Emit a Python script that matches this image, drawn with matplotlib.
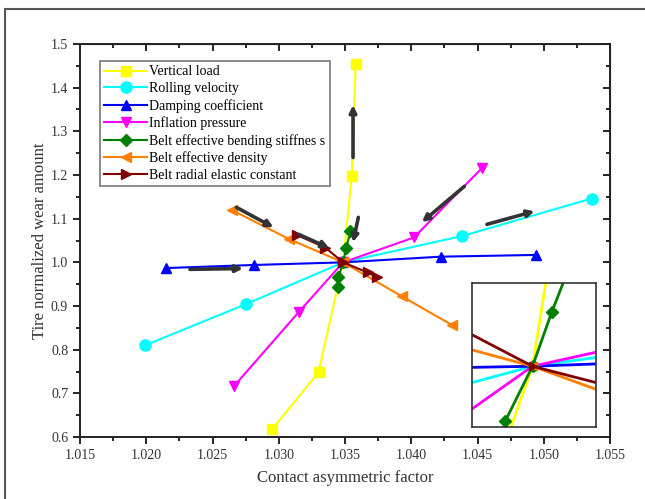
import numpy as np
import matplotlib.pyplot as plt
from matplotlib.patches import Rectangle
from matplotlib.ticker import MultipleLocator

plt.rcParams['font.family'] = ['Liberation Serif', 'DejaVu Serif']

# Contact asymmetric factor (x) and normalized wear (y) for each parameter sweep
labels = ['Vertical load', 'Rolling velocity', 'Damping coefficient',
          'Inflation pressure', 'Belt effective bending stiffnes s',
          'Belt effective density', 'Belt radial elastic constant']

vl_x = [1.0295, 1.0330, 1.03485, 1.0355, 1.0358]
vl_y = [0.618, 0.748, 1.0, 1.197, 1.455]

rv_x = [1.0199, 1.0275, 1.03485, 1.0438, 1.0536]
rv_y = [0.810, 0.904, 1.0, 1.060, 1.146]

dc_x = [1.0215, 1.0281, 1.03485, 1.0422, 1.0494]
dc_y = [0.987, 0.994, 1.0, 1.013, 1.017]

ip_x = [1.0266, 1.0315, 1.03485, 1.0402, 1.0453]
ip_y = [0.716, 0.886, 1.0, 1.057, 1.215]

bs_x = [1.0345, 1.0345, 1.03485, 1.0351, 1.0354]
bs_y = [0.943, 0.966, 1.0, 1.034, 1.071]

bd_x = [1.0265, 1.0308, 1.03485, 1.0393, 1.0431]
bd_y = [1.119, 1.053, 1.0, 0.922, 0.856]

br_x = [1.0314, 1.0335, 1.03485, 1.0367, 1.0374]
br_y = [1.062, 1.034, 1.0, 0.977, 0.966]

xs = [vl_x, rv_x, dc_x, ip_x, bs_x, bd_x, br_x]
ys = [vl_y, rv_y, dc_y, ip_y, bs_y, bd_y, br_y]
colors = ['#ffff00', '#00ffff', '#0000ff', '#ff00ff', '#008000', '#ff7f00', '#800000']
markers = ['s', 'o', '^', 'v', 'D', '<', '>']
msizes = [7, 8, 7, 7, 6, 7, 7]

# trend arrows (tail -> head)
arrows = [
    ((1.0356, 1.24), (1.0356, 1.36)),
    ((1.0360, 1.103), (1.0356, 1.046)),
    ((1.0440, 1.174), (1.0408, 1.092)),
    ((1.0457, 1.087), (1.0493, 1.117)),
    ((1.0233, 0.984), (1.0273, 0.986)),
    ((1.0268, 1.126), (1.0296, 1.080)),
    ((1.0315, 1.064), (1.0338, 1.033)),
]

fig = plt.figure(figsize=(6.45, 4.99), dpi=100)
fig.patches.append(Rectangle((5 / 645, -0.05), 1.0, 1 - 9 / 499 + 0.05,
                             transform=fig.transFigure, fill=False,
                             edgecolor='#555555', lw=1.5))

ax = fig.add_axes([0.124, 0.124, 0.822, 0.788])
for x, y, c, m, ms, lab in zip(xs, ys, colors, markers, msizes, labels):
    ax.plot(x, y, color=c, marker=m, markersize=ms, lw=1.5, label=lab)

for (x0, y0), (x1, y1) in arrows:
    ax.annotate('', xy=(x1, y1), xytext=(x0, y0),
                arrowprops=dict(arrowstyle='-|>', color='#333333', lw=2.6,
                                mutation_scale=10, shrinkA=0, shrinkB=0))

ax.set_xlim(1.015, 1.055)
ax.set_ylim(0.6, 1.5)
ax.xaxis.set_major_locator(MultipleLocator(0.005))
ax.xaxis.set_minor_locator(MultipleLocator(0.0025))
ax.yaxis.set_major_locator(MultipleLocator(0.1))
ax.yaxis.set_minor_locator(MultipleLocator(0.05))
ax.set_xticklabels([f'{v:.3f}' for v in ax.get_xticks()])
ax.set_yticklabels([f'{v:.1f}' for v in ax.get_yticks()])
ax.tick_params(which='both', direction='out', top=False, right=False,
               labelsize=10, labelcolor='#333333', width=1.2)
ax.tick_params(which='major', length=5)
ax.tick_params(which='minor', length=3)
for s in ax.spines.values():
    s.set_linewidth(1.4)
    s.set_color('#222222')

# mirrored inward ticks on top and right
axt = ax.secondary_xaxis('top')
axt.xaxis.set_major_locator(MultipleLocator(0.005))
axt.xaxis.set_minor_locator(MultipleLocator(0.0025))
axt.tick_params(which='both', direction='in', labeltop=False, width=1.2)
axt.tick_params(which='major', length=5)
axt.tick_params(which='minor', length=3)
axr = ax.secondary_yaxis('right')
axr.yaxis.set_major_locator(MultipleLocator(0.1))
axr.yaxis.set_minor_locator(MultipleLocator(0.05))
axr.tick_params(which='both', direction='in', labelright=False, width=1.2)
axr.tick_params(which='major', length=5)
axr.tick_params(which='minor', length=3)

ax.set_xlabel('Contact asymmetric factor', fontsize=12, color='#333333', labelpad=6)
ax.set_ylabel('Tire normalized wear amount', fontsize=12, color='#333333', labelpad=2)

leg = ax.legend(loc='upper left', bbox_to_anchor=(0.038, 0.956), fontsize=10,
                frameon=True, fancybox=False, edgecolor='#555555',
                handlelength=3.1, labelspacing=0.27, borderpad=0.3,
                handletextpad=0.15, borderaxespad=0)
leg.get_frame().set_linewidth(1.2)

# zoomed view of the common crossing point
axi = fig.add_axes([0.732, 0.144, 0.192, 0.289])
for x, y, c, m in zip(xs, ys, colors, markers):
    axi.plot(x, y, color=c, marker=m, markersize=6, lw=2)
axi.set_xlim(1.03485 - 0.00078, 1.03485 + 0.00082)
axi.set_ylim(0.962, 1.052)
axi.set_xticks([])
axi.set_yticks([])
for s in axi.spines.values():
    s.set_linewidth(1.2)
    s.set_color('#333333')

fig.savefig('out.png', dpi=100)
